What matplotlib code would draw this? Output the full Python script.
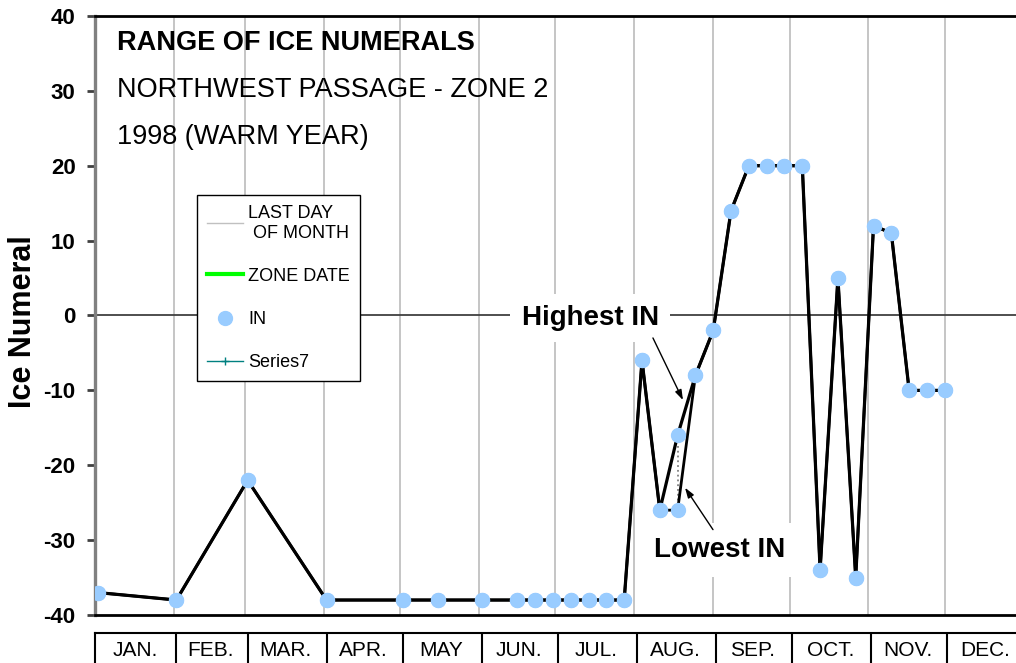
import numpy as np
import matplotlib
matplotlib.use("Agg")
import matplotlib.pyplot as plt
from matplotlib.lines import Line2D

plt.rcParams["font.family"] = ["Liberation Sans", "DejaVu Sans"]
plt.rcParams["axes.unicode_minus"] = False

# day of year (Jan 1 = 1) of each observation
obs_days = [1, 32, 60, 91, 121, 135, 152, 166, 173, 180, 187, 194, 201, 208,
            215, 222, 229, 236, 243, 250, 257, 264, 271, 278, 285, 292, 299,
            306, 313, 320, 327, 334]
in_highest = [-37, -38, -22, -38, -38, -38, -38, -38, -38, -38, -38, -38, -38, -38,
              -6, -26, -16, -8, -2, 14, 20, 20, 20, 20, -34, 5, -35,
              12, 11, -10, -10, -10]
in_lowest = [-37, -38, -22, -38, -38, -38, -38, -38, -38, -38, -38, -38, -38, -38,
             -6, -26, -26, -8, -2, 14, 20, 20, 20, 20, -34, 5, -35,
             12, 11, -10, -10, -10]

month_last_day = [31, 59, 90, 120, 151, 181, 212, 243, 273, 304, 334]
month_first_day = [1, 32, 60, 91, 121, 152, 182, 213, 244, 274, 305, 335, 366]
month_names = ["JAN.", "FEB.", "MAR.", "APR.", "MAY", "JUN.", "JUL.",
               "AUG.", "SEP.", "OCT.", "NOV.", "DEC."]

title_lines = ["RANGE OF ICE NUMERALS", "NORTHWEST PASSAGE - ZONE 2", "1998 (WARM YEAR)"]

days = np.array(obs_days)
hi = np.array(in_highest)
lo = np.array(in_lowest)

fig = plt.figure(figsize=(10.16, 6.63), dpi=100)
ax = fig.add_axes([0.0935, 0.0724, 0.9065, 0.9035])

# month-end gridlines ("last day of month" series)
ax.vlines(month_last_day, -40, 40, color="#c0c0c0", lw=1.3, zorder=1)
ax.axhline(0, color="#404040", lw=1.3, zorder=1)

# range between lowest and highest where they differ
diff = hi != lo
ax.vlines(days[diff], lo[diff], hi[diff], color="#808080", lw=1.3,
          linestyles=":", zorder=2)

ax.plot(days, lo, color="black", lw=2.0, zorder=2)
ax.plot(days, hi, color="black", lw=2.3, zorder=2)
ax.plot(days, lo, ls="none", marker="o", ms=10, color="#99ccff",
        mec="#99ccff", zorder=3)
ax.plot(days, hi, ls="none", marker="o", ms=10, color="#99ccff",
        mec="#99ccff", zorder=3)

ax.set_xlim(0, 362)
ax.set_ylim(-40, 40)
ax.set_yticks(np.arange(-40, 41, 10))
ax.set_xticks([])
for lab in ax.get_yticklabels():
    lab.set_fontweight("bold")
ax.tick_params(axis="y", direction="out", length=6, width=2, color="#404040",
               labelsize=16, pad=8)

ax.spines["right"].set_visible(False)
ax.spines["left"].set_color("#808080")
ax.spines["left"].set_linewidth(2.4)
ax.spines["top"].set_linewidth(2)
ax.spines["bottom"].set_linewidth(2)

ax.set_ylabel("Ice Numeral", fontsize=22, fontweight="bold")
ax.yaxis.set_label_coords(-0.062, 0.49)

# titles
ax.text(0.024, 0.943, title_lines[0], transform=ax.transAxes, fontsize=19.5,
        fontweight="bold", va="baseline")
ax.text(0.024, 0.865, title_lines[1], transform=ax.transAxes, fontsize=19.5,
        va="baseline")
ax.text(0.024, 0.786, title_lines[2], transform=ax.transAxes, fontsize=19.5,
        va="baseline")

# annotations
box = dict(boxstyle="square,pad=0.4", fc="white", ec="none")
ax.text(194.6, -0.3, "Highest IN", fontsize=20, fontweight="bold",
        ha="center", va="center", bbox=box, zorder=4)
ax.text(245.7, -31.3, "Lowest IN", fontsize=20, fontweight="bold",
        ha="center", va="center", bbox=dict(boxstyle="square,pad=0.5", fc="white", ec="none"),
        zorder=4)
arrow = dict(arrowstyle="-|>,head_length=0.6,head_width=0.2", color="black",
             lw=1, shrinkA=0, shrinkB=0)
ax.annotate("", xy=(231.1, -11.3), xytext=(219.3, -3.0), arrowprops=arrow, zorder=5)
ax.annotate("", xy=(231.9, -23.0), xytext=(242.9, -28.6), arrowprops=arrow, zorder=5)

# legend
handles = [
    Line2D([], [], color="#c0c0c0", lw=1),
    Line2D([], [], color="#00ff00", lw=3),
    Line2D([], [], ls="none", marker="o", ms=10, color="#99ccff"),
    Line2D([], [], color="#008080", lw=1, marker="+", ms=6),
]
labels = ["LAST DAY\n OF MONTH", "ZONE DATE", "IN", "Series7"]
leg = ax.legend(handles, labels, loc="upper left", bbox_to_anchor=(0.1107, 0.701),
                borderaxespad=0, fontsize=13, frameon=True, fancybox=False,
                framealpha=1, edgecolor="black", labelspacing=1.45,
                handlelength=2.0, handletextpad=0.3, borderpad=0.55)
leg.get_frame().set_linewidth(1)
leg.set_zorder(6)

# month label row
axm = fig.add_axes([0.0935, -0.02, 0.9065, 0.0657], sharex=ax)
axm.set_ylim(0, 1)
axm.vlines(month_first_day[1:], 0, 1, color="black", lw=1.5)
for a, b, name in zip(month_first_day[:-1], month_first_day[1:], month_names):
    axm.text((a + b) / 2 - 0.5, 0.6, name, ha="center", va="center", fontsize=15)
axm.set_yticks([])
axm.tick_params(axis="x", bottom=False, labelbottom=False)
for s in ["right", "bottom"]:
    axm.spines[s].set_visible(False)
axm.spines["top"].set_linewidth(1.5)
axm.spines["left"].set_linewidth(1.5)

fig.savefig("out.png", dpi=100)
